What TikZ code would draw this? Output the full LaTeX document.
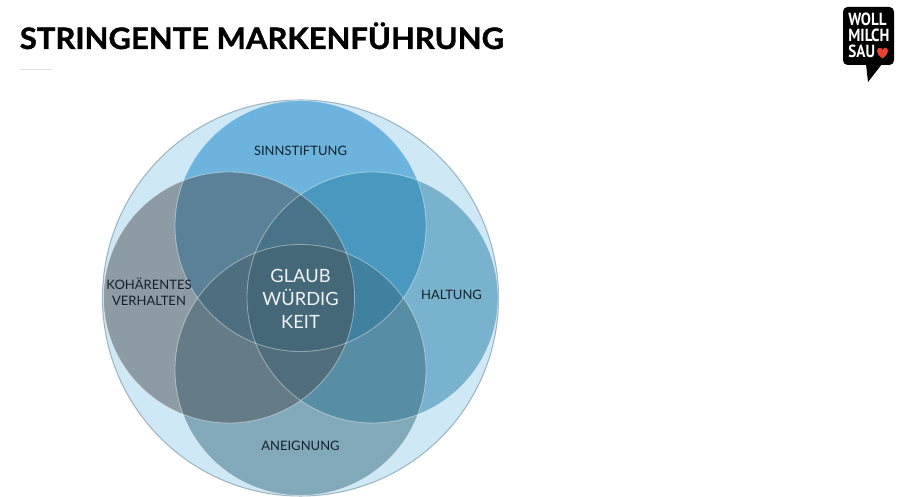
\documentclass[tikz,border=0pt]{standalone}
\usepackage{fontspec}
\setmainfont{Lato}
\newfontfamily\logofont{PT Sans}
\newfontfamily\titlefont[BoldFeatures={FakeBold=1.3,FakeStretch=1.05}]{Lato}
\definecolor{outerblue}{HTML}{CFE8F6}
\definecolor{outeredge}{HTML}{9DB5C0}
\definecolor{topblue}{HTML}{6CB4DE}
\definecolor{rightblue}{HTML}{257EA3}
\definecolor{bottomblue}{HTML}{376C7F}
\definecolor{leftgray}{HTML}{4A5053}
\definecolor{labeltext}{HTML}{14222C}
\definecolor{heartred}{HTML}{E8432E}
\tikzset{
	petal/.style={fill opacity=0.5},
	petaledge/.style={white,opacity=0.4,line width=0.5},
	petallabel/.style={text=labeltext,align=center,font=\fontsize{7.4}{9}\selectfont},
	corelabel/.style={text=white,opacity=0.92,align=center,font=\fontsize{10.4}{13.2}\selectfont}
}
\begin{document}
\begin{tikzpicture}[scale=2]
	\useasboundingbox (0,0) rectangle (9.02,4.97);
	\node [anchor=base west,inner sep=0,font=\titlefont\fontsize{16.8}{20}\selectfont\bfseries] (title) at (0.195,4.48) {STRINGENTE MARKENFÜHRUNG};
	\draw [black!12,line width=0.4] (0.20,4.28) -- (0.52,4.28);
	% venn
	\draw [outeredge,fill=outerblue,line width=0.6] (3.005,1.99) circle [radius=1.98];
	\begin{scope}[petal]
	\fill [topblue,fill opacity=1] (3.005,2.71) circle [radius=1.255];
	\fill [rightblue] (3.725,1.995) circle [radius=1.255];
	\fill [bottomblue] (3.005,1.27) circle [radius=1.255];
	\fill [leftgray] (2.29,1.995) circle [radius=1.255];
	\end{scope}
	\draw [petaledge] (3.005,2.71) circle [radius=1.255];
	\draw [petaledge] (3.725,1.995) circle [radius=1.255];
	\draw [petaledge] (3.005,1.27) circle [radius=1.255];
	\draw [petaledge] (2.29,1.995) circle [radius=1.255];
	\node [petallabel] (sinn) at (3.005,3.46) {SINNSTIFTUNG};
	\node [petallabel] (verhalten) at (1.49,2.05) {KOHÄRENTES\\VERHALTEN};
	\node [petallabel] (haltung) at (4.515,2.02) {HALTUNG};
	\node [petallabel] (aneignung) at (3.005,0.51) {ANEIGNUNG};
	\node [corelabel] (core) at (3.005,1.98) {GLAUB\\WÜRDIG\\KEIT};
	% logo
	\fill [black,rounded corners=2.6] (8.43,4.90) rectangle (8.94,4.32);
	\fill [black] (8.66,4.33) -- (8.68,4.15) -- (8.82,4.33) -- cycle;
	\node [anchor=north west,inner sep=0,text=white,align=left,font=\logofont\bfseries\fontsize{10}{9.1}\selectfont] (logo) at (8.48,4.84) {\scalebox{0.86}[1]{WOLL}\\\scalebox{0.86}[1]{MILCH}\\\scalebox{0.86}[1]{SAU}};
	\fill [heartred] (8.825,4.385) .. controls (8.78,4.42) and (8.765,4.445) .. (8.77,4.465) .. controls (8.78,4.50) and (8.815,4.50) .. (8.825,4.47) .. controls (8.835,4.50) and (8.87,4.50) .. (8.88,4.465) .. controls (8.885,4.445) and (8.87,4.42) .. (8.825,4.385) -- cycle;
\end{tikzpicture}
\end{document}
